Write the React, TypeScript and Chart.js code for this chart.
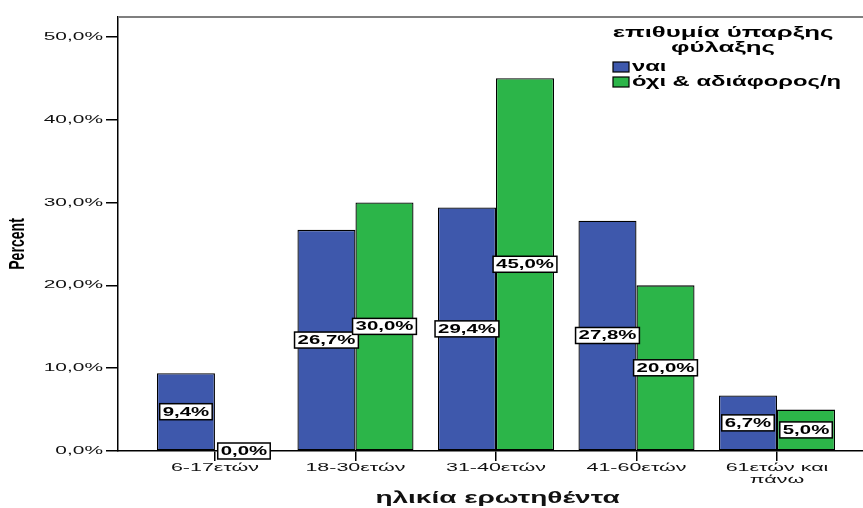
import { useEffect, useRef } from 'react';
import { Chart, registerables } from 'chart.js';

Chart.register(...registerables);

// ---- data ----
const ageGroups: string[][] = [
  ['6-17ετών'],
  ['18-30ετών'],
  ['31-40ετών'],
  ['41-60ετών'],
  ['61ετών και', 'πάνω'],
];
const yesValues = [9.4, 26.7, 29.4, 27.8, 6.7];
const noValues = [0.0, 30.0, 45.0, 20.0, 5.0];
const seriesNames = ['ναι', 'όχι & αδιάφορος/η'];
const legendTitle = ['επιθυμία ύπαρξης', 'φύλαξης'];
const yTickValues = [0, 10, 20, 30, 40, 50];
const xAxisTitle = 'ηλικία ερωτηθέντα';
const yAxisTitle = 'Percent';

const BLUE = 'rgb(62,88,172)';
const GREEN = 'rgb(44,181,73)';
const FONT = '"Liberation Sans", Arial, sans-serif';

const fmt = (v: number) => v.toFixed(1).replace('.', ',') + '%';

// horizontally stretch text drawn by a scale method (the source image has stretched glyphs)
function wrapStretch(scale: any, method: string, sx: number, dx = 0) {
  const orig = scale[method];
  if (!orig || orig.__wrapped) return;
  const w = function (this: any, ...args: any[]) {
    const ctx = this.ctx as any;
    const protoRotate = CanvasRenderingContext2D.prototype.rotate;
    ctx.rotate = function (a: number) {
      protoRotate.call(ctx, a);
      if (dx) ctx.translate(dx, 0);
      ctx.scale(sx, 1);
    };
    try {
      return orig.apply(this, args);
    } finally {
      delete ctx.rotate;
    }
  };
  (w as any).__wrapped = true;
  scale[method] = w;
}

const stretchPlugin = {
  id: 'stretch',
  afterLayout(chart: any) {
    const x = chart.scales.x;
    const y = chart.scales.y;
    wrapStretch(x, 'drawLabels', 1.95);
    wrapStretch(y, 'drawLabels', 1.9);
    wrapStretch(x, 'drawTitle', 1.75, 7);
    wrapStretch(y, 'drawTitle', 0.64, -10);
  },
};

const framePlugin = {
  id: 'frame',
  beforeDatasetsDraw(chart: any) {
    const { ctx, chartArea } = chart;
    ctx.save();
    ctx.strokeStyle = '#7f7f7f';
    ctx.lineWidth = 2;
    ctx.beginPath();
    ctx.moveTo(chartArea.left, chartArea.top);
    ctx.lineTo(chartArea.right, chartArea.top);
    ctx.stroke();
    ctx.restore();
  },
};

function stretchedText(ctx: CanvasRenderingContext2D, text: string, x: number, y: number, sx: number) {
  ctx.save();
  ctx.translate(x, y);
  ctx.scale(sx, 1);
  ctx.fillText(text, 0, 0);
  ctx.restore();
}

const labelPlugin = {
  id: 'barLabels',
  afterDatasetsDraw(chart: any) {
    const ctx = chart.ctx as CanvasRenderingContext2D;
    const sx = 1.7;
    ctx.save();
    ctx.font = 'bold 12px ' + FONT;
    ctx.textAlign = 'center';
    ctx.textBaseline = 'middle';
    chart.data.datasets.forEach((ds: any, di: number) => {
      const meta = chart.getDatasetMeta(di);
      meta.data.forEach((bar: any, i: number) => {
        const v = ds.data[i].y as number;
        const text = fmt(v);
        const x = bar.x;
        const y = (bar.y + bar.base) / 2;
        const w = ctx.measureText(text).width * sx;
        const bw = w + 6;
        const bh = 16;
        ctx.fillStyle = '#fff';
        ctx.fillRect(x - bw / 2, y - bh / 2, bw, bh);
        ctx.strokeStyle = '#000';
        ctx.lineWidth = 1.5;
        ctx.strokeRect(x - bw / 2, y - bh / 2, bw, bh);
        ctx.fillStyle = '#000';
        stretchedText(ctx, text, x, y + 0.5, sx);
      });
    });
    ctx.restore();
  },
};

const legendPlugin = {
  id: 'customLegend',
  afterDraw(chart: any) {
    const ctx = chart.ctx as CanvasRenderingContext2D;
    ctx.save();
    ctx.textBaseline = 'middle';
    ctx.fillStyle = '#000';
    ctx.font = 'bold 15px ' + FONT;
    ctx.textAlign = 'center';
    legendTitle.forEach((line, i) => {
      stretchedText(ctx, line, 723, 33 + i * 15, 1.72);
    });
    ctx.font = 'bold 14px ' + FONT;
    ctx.textAlign = 'left';
    chart.data.datasets.forEach((ds: any, i: number) => {
      const y = 67 + i * 15;
      ctx.fillStyle = ds.backgroundColor;
      ctx.fillRect(613, y - 5, 16, 10);
      ctx.strokeStyle = '#000';
      ctx.lineWidth = 1.2;
      ctx.strokeRect(613, y - 5, 16, 10);
      ctx.fillStyle = '#000';
      stretchedText(ctx, ds.label, 632, y, 1.7);
    });
    ctx.restore();
  },
};

export default function App() {
  const ref = useRef<HTMLCanvasElement>(null);

  useEffect(() => {
    if (!ref.current) return;
    const chart = new Chart(ref.current, {
      type: 'bar',
      data: {
        datasets: [
          {
            label: seriesNames[0],
            data: yesValues.map((v, i) => ({ x: i, y: v })),
            backgroundColor: BLUE,
            borderColor: '#000',
            borderWidth: 1.3,
            borderSkipped: false,
          },
          {
            label: seriesNames[1],
            data: noValues.map((v, i) => ({ x: i, y: v })),
            backgroundColor: GREEN,
            borderColor: '#000',
            borderWidth: 1.3,
            borderSkipped: false,
          },
        ],
      },
      options: {
        animation: false,
        responsive: true,
        maintainAspectRatio: false,
        datasets: {
          bar: { barPercentage: 1, categoryPercentage: 0.826 },
        },
        layout: { padding: { top: 17, left: 0, right: 0, bottom: 0 } },
        plugins: {
          legend: { display: false },
          tooltip: { enabled: false },
        },
        scales: {
          x: {
            type: 'linear',
            offset: false,
            min: -0.69,
            max: 4.612,
            afterBuildTicks: (s: any) => {
              s.ticks = ageGroups.map((_, i) => ({ value: i }));
            },
            afterFit: (s: any) => {
              s.height = 57;
            },
            ticks: {
              autoSkip: false,
              maxRotation: 0,
              padding: 1,
              color: '#111',
              font: { family: FONT, size: 11, lineHeight: 1.1 },
              callback: (v: any) => ageGroups[Math.round(Number(v))] ?? '',
            },
            grid: {
              display: true,
              offset: false,
              drawOnChartArea: false,
              drawTicks: true,
              tickLength: 10,
              color: '#000',
              lineWidth: 1.5,
            },
            border: { display: true, color: '#000', width: 1.5 },
            title: {
              display: true,
              text: xAxisTitle,
              color: '#111',
              font: { family: FONT, size: 16, weight: 'bold' },
              padding: { top: 1, bottom: 0 },
            },
          },
          y: {
            type: 'linear',
            min: 0,
            max: 52.4,
            afterBuildTicks: (s: any) => {
              s.ticks = yTickValues.map((v) => ({ value: v }));
            },
            afterFit: (s: any) => {
              s.width = 118;
            },
            ticks: {
              padding: 3,
              color: '#111',
              font: { family: FONT, size: 11 },
              callback: (v: any) => fmt(Number(v)),
            },
            grid: {
              display: true,
              drawOnChartArea: false,
              drawTicks: true,
              tickLength: 12,
              color: '#000',
              lineWidth: 1.5,
            },
            border: { display: true, color: '#000', width: 1.5 },
            title: {
              display: true,
              text: yAxisTitle,
              color: '#000',
              font: { family: FONT, size: 22, weight: 'bold' },
              padding: { top: 5, bottom: 0 },
            },
          },
        },
      } as any,
      plugins: [stretchPlugin, framePlugin, labelPlugin, legendPlugin],
    });
    return () => chart.destroy();
  }, []);

  return (
    <div style={{ position: 'fixed', left: 0, top: 0, width: 863, height: 508, background: '#fff' }}>
      <canvas ref={ref} />
    </div>
  );
}
